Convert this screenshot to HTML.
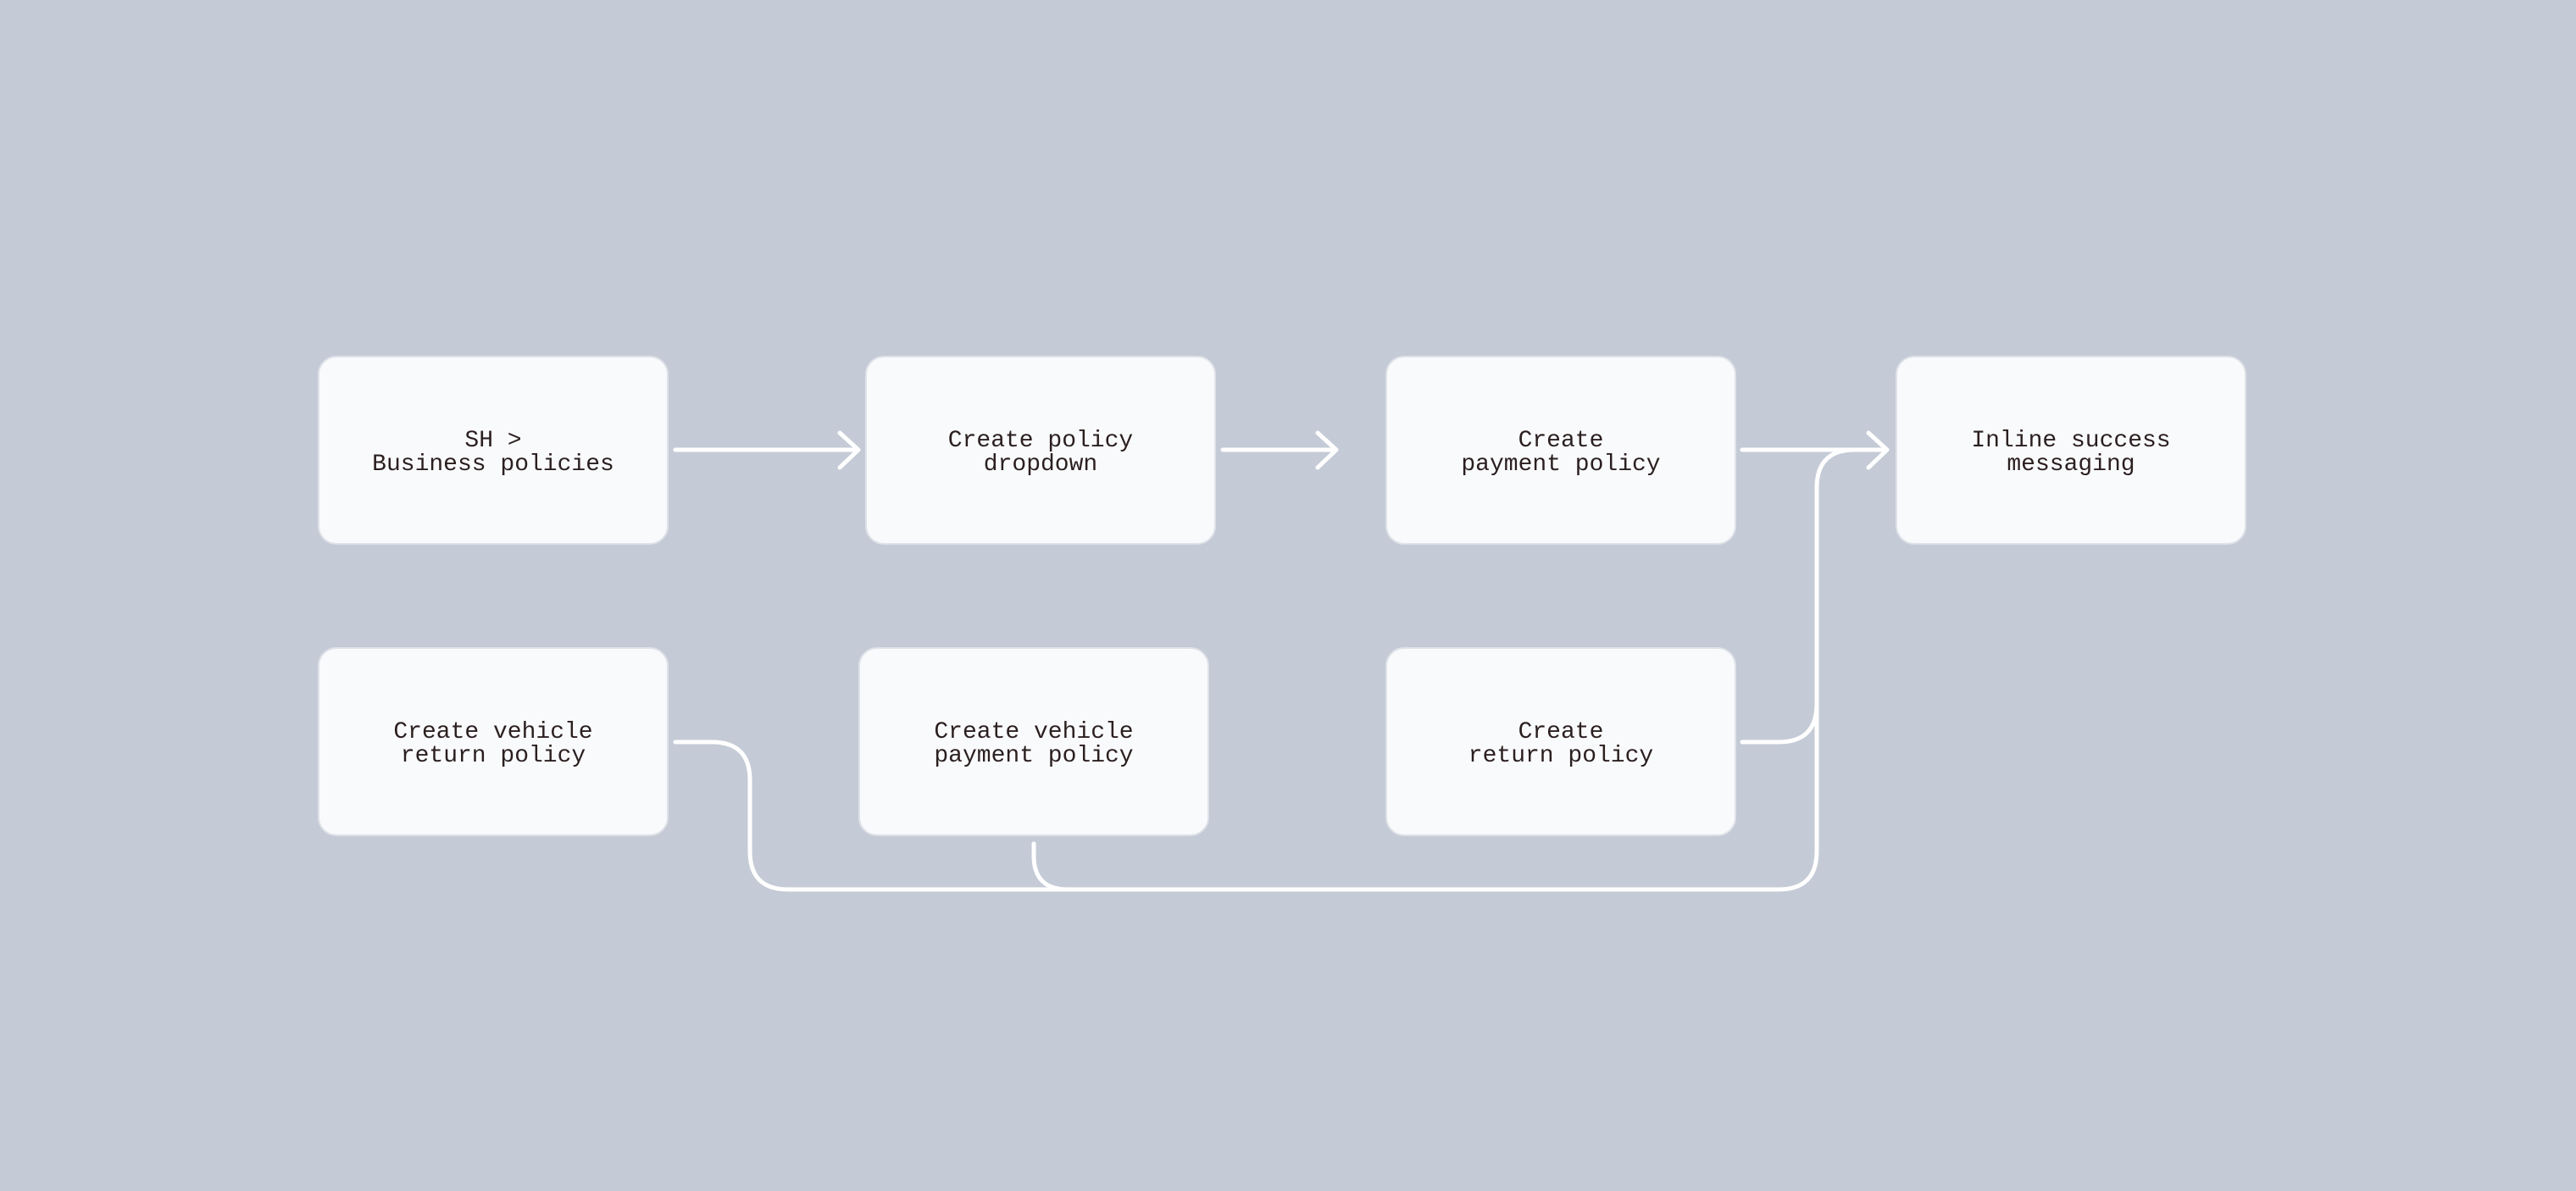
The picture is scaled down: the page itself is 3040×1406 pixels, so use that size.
<!DOCTYPE html>
<html><head><meta charset="utf-8"><style>
html,body{margin:0;padding:0;background:#c4cbd6;}
body{width:3040px;height:1406px;position:relative;overflow:hidden;}
.b{position:absolute;width:410px;height:213px;padding-top:6px;background:#f9fafc;border:2px solid #dfe2e8;border-radius:22px;display:flex;align-items:center;justify-content:center;text-align:center;font-family:"Liberation Mono",monospace;font-size:28px;line-height:28px;color:#2b1f1f;white-space:pre;}
svg{position:absolute;left:0;top:0;}
</style></head><body>
<svg width="3040" height="1406" fill="none" stroke="#fff" stroke-width="5" stroke-linecap="round" stroke-linejoin="round">
<path d="M797 531H1012M991 511L1013 531L991 552"/>
<path d="M1443 531H1576M1555 511L1577 531L1555 552"/>
<path d="M2056 531H2226M2205 511L2227 531L2205 552"/>
<path d="M797 876H840Q885 876 885 921V1005Q885 1050 930 1050H2099Q2144 1050 2144 1005V576Q2144 531 2189 531H2220"/>
<path d="M1220 996V1010Q1220 1050 1260 1050"/>
<path d="M2056 876H2099Q2144 876 2144 831"/>
</svg>
<div class="b" style="left:375px;top:420px">SH &gt;
Business policies</div>
<div class="b" style="left:1021px;top:420px">Create policy
dropdown</div>
<div class="b" style="left:1635px;top:420px">Create
payment policy</div>
<div class="b" style="left:2237px;top:420px">Inline success
messaging</div>
<div class="b" style="left:375px;top:764px">Create vehicle
return policy</div>
<div class="b" style="left:1013px;top:764px">Create vehicle
payment policy</div>
<div class="b" style="left:1635px;top:764px">Create
return policy</div>
</body></html>
